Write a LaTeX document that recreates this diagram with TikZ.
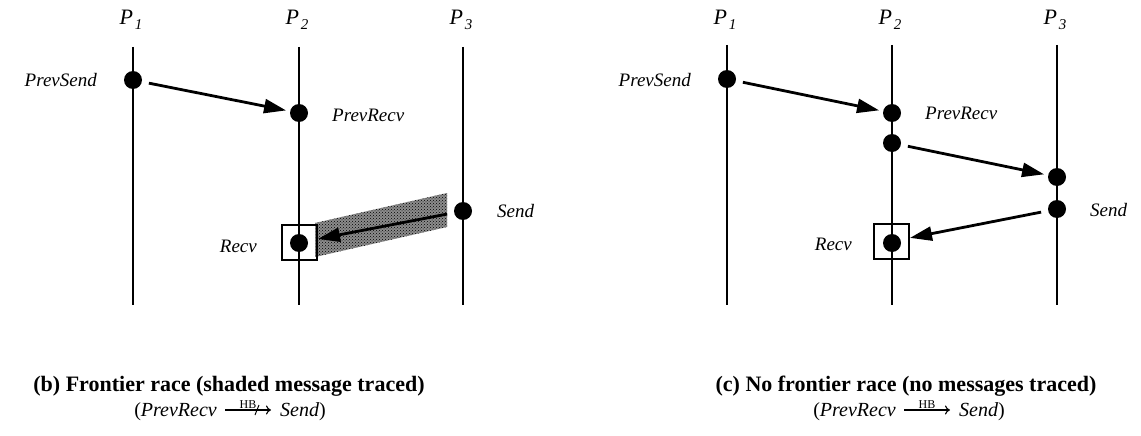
\documentclass[tikz,border=0pt]{standalone}
\usepackage{fontspec}
\setmainfont{Liberation Serif}
\usetikzlibrary{arrows.meta,patterns}
\newcommand{\procname}[1]{\textit{P}\kern2pt\raisebox{-5pt}{\fontsize{15}{15}\selectfont\textit{#1}}}
\begin{document}
\begin{tikzpicture}[x=1pt,y=-1pt,
  proc/.style={line width=2.8pt},
  ev/.style={circle,fill=black,inner sep=0pt,minimum size=18pt},
  msg/.style={line width=2.8pt,-{Triangle[length=22pt,width=14pt]},shorten <=7pt,shorten >=4pt},
  lbl/.style={font=\fontsize{19}{22}\selectfont\itshape,inner sep=0pt},
  plbl/.style={font=\fontsize{22}{26}\selectfont,inner sep=0pt},
  frame/.style={draw,line width=2pt,minimum size=35pt,inner sep=0pt},
  captxt/.style={font=\fontsize{22}{26}\selectfont\bfseries,inner sep=0pt},
  ltwo/.style={font=\fontsize{20}{24}\selectfont,inner sep=0pt},
  hb/.style={line width=1.1pt,-{To[length=5pt,width=9pt]}},
  hblbl/.style={font=\fontsize{12}{12}\selectfont,inner sep=1pt},
  shade/.style={fill=black!45}
]
\useasboundingbox (0,0) rectangle (1141,436);

% ===== left panel (b) =====
\node[plbl] (lp1) at (131,20) {\procname{1}};
\node[plbl] (lp2) at (297,20) {\procname{2}};
\node[plbl] (lp3) at (461,20) {\procname{3}};
\coordinate (lt1) at (133,47); \coordinate (lb1) at (133,305);
\coordinate (lt2) at (299,47); \coordinate (lb2) at (299,305);
\coordinate (lt3) at (463,47); \coordinate (lb3) at (463,305);
\draw[proc] (lt1) -- (lb1);
\draw[proc] (lt2) -- (lb2);
\draw[proc] (lt3) -- (lb3);

\fill[shade] (315,223) -- (447,193) -- (447,227) -- (315,257) -- cycle;
\fill[pattern=crosshatch dots] (315,223) -- (447,193) -- (447,227) -- (315,257) -- cycle;

\node[ev] (lps) at (133,80) {};
\node[ev] (lpr) at (299,113) {};
\node[ev] (ls) at (463,211) {};
\node[ev] (lr) at (299,243) {};
\node[frame] (lbox) at (299.5,242.5) {};

\draw[msg] (lps) -- (lpr);
\draw[msg,shorten >=0pt] (ls) -- (lbox);

\node[lbl,anchor=east] (lpsl) at (97,80) {PrevSend};
\node[lbl,anchor=west] (lprl) at (332,115) {PrevRecv};
\node[lbl,anchor=west] (lsl) at (497,211) {Send};
\node[lbl,anchor=east] (lrl) at (257,246) {Recv};

\node[captxt] (capb) at (229,386) {(b) Frontier race (shaded message traced)};
\node[ltwo,anchor=base east] (lhl) at (217,416) {(\textit{PrevRecv}};
\node[ltwo,anchor=base west] (lhr) at (280,416) {\textit{Send})};
\coordinate (la1) at (225,410);
\coordinate (la2) at (271,410);
\draw[hb] (la1) -- (la2) node[hblbl,midway,above] (lhb) {HB};
\coordinate (lsl1) at (255,415);
\coordinate (lsl2) at (259,405);
\draw[line width=1pt] (lsl1) -- (lsl2);

% ===== right panel (c) =====
\node[plbl] (rp1) at (725,20) {\procname{1}};
\node[plbl] (rp2) at (890,20) {\procname{2}};
\node[plbl] (rp3) at (1055,20) {\procname{3}};
\coordinate (rt1) at (727,45); \coordinate (rb1) at (727,305);
\coordinate (rt2) at (892,45); \coordinate (rb2) at (892,305);
\coordinate (rt3) at (1057,45); \coordinate (rb3) at (1057,305);
\draw[proc] (rt1) -- (rb1);
\draw[proc] (rt2) -- (rb2);
\draw[proc] (rt3) -- (rb3);

\node[ev] (rps) at (727,79) {};
\node[ev] (rpr) at (892,113) {};
\node[ev] (rx) at (892,143) {};
\node[ev] (ry) at (1057,177) {};
\node[ev] (rs) at (1057,209) {};
\node[ev] (rr) at (892,243) {};
\node[frame] (rbox) at (891.5,241.5) {};

\draw[msg] (rps) -- (rpr);
\draw[msg] (rx) -- (ry);
\draw[msg,shorten >=0pt] (rs) -- (rbox);

\node[lbl,anchor=east] (rpsl) at (691,80) {PrevSend};
\node[lbl,anchor=west] (rprl) at (925,113) {PrevRecv};
\node[lbl,anchor=west] (rsl) at (1090,210) {Send};
\node[lbl,anchor=east] (rrl) at (852,244) {Recv};

\node[captxt] (capc) at (906,386) {(c) No frontier race (no messages traced)};
\node[ltwo,anchor=base east] (rhl) at (896,416) {(\textit{PrevRecv}};
\node[ltwo,anchor=base west] (rhr) at (959,416) {\textit{Send})};
\coordinate (ra1) at (904,410);
\coordinate (ra2) at (950,410);
\draw[hb] (ra1) -- (ra2) node[hblbl,midway,above] (rhb) {HB};
\end{tikzpicture}
\end{document}
